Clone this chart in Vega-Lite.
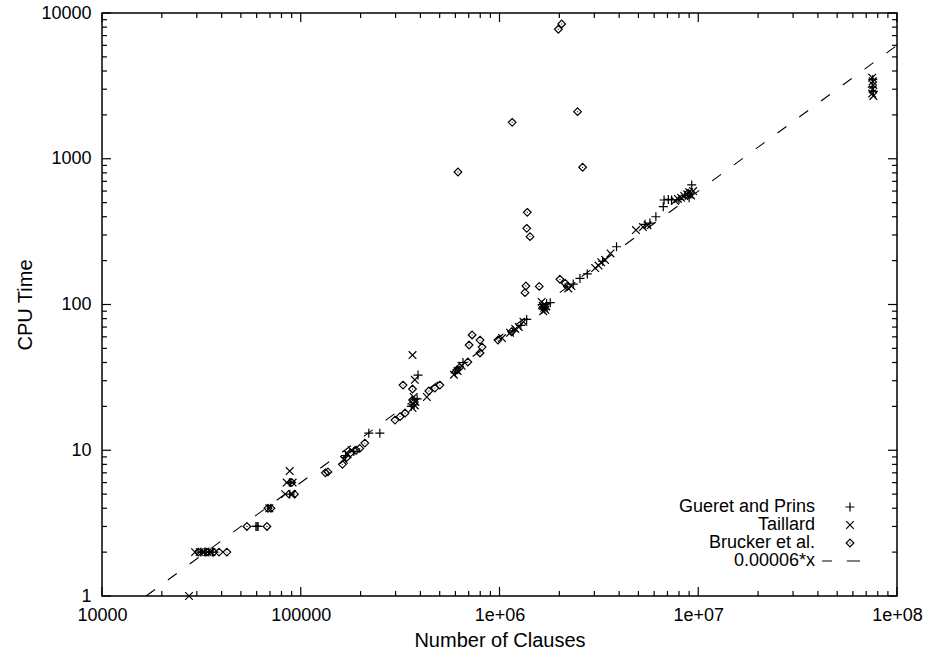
{
  "$schema": "https://vega.github.io/schema/vega-lite/v6.json",
  "width": 795,
  "height": 583,
  "autosize": "none",
  "padding": {"left": 102, "top": 13, "right": 39, "bottom": 61},
  "background": "white",
  "config": {
    "view": {"stroke": "black", "strokeWidth": 1.5},
    "axis": {
      "domain": false, "ticks": false, "grid": false,
      "labelFont": "Liberation Sans", "labelFontSize": 18, "labelColor": "black",
      "titleFont": "Liberation Sans", "titleFontSize": 20, "titleFontWeight": "normal", "titleColor": "black",
      "labelOverlap": false, "labelFlush": false
    },
    "legend": {
      "labelFont": "Liberation Sans", "labelFontSize": 18, "labelColor": "black"
    }
  },
  "datasets": {
    "fit": [
      {"clauses": 16667, "cpu": 1},
      {"clauses": 100000000, "cpu": 6000}
    ],
    "xmajor": [
      {"clauses": 10000}, {"clauses": 100000}, {"clauses": 1000000}, {"clauses": 10000000}, {"clauses": 100000000}
    ],
    "xminor": [
      {"clauses": 20000}, {"clauses": 30000}, {"clauses": 40000}, {"clauses": 50000}, {"clauses": 60000}, {"clauses": 70000}, {"clauses": 80000}, {"clauses": 90000},
      {"clauses": 200000}, {"clauses": 300000}, {"clauses": 400000}, {"clauses": 500000}, {"clauses": 600000}, {"clauses": 700000}, {"clauses": 800000}, {"clauses": 900000},
      {"clauses": 2000000}, {"clauses": 3000000}, {"clauses": 4000000}, {"clauses": 5000000}, {"clauses": 6000000}, {"clauses": 7000000}, {"clauses": 8000000}, {"clauses": 9000000},
      {"clauses": 20000000}, {"clauses": 30000000}, {"clauses": 40000000}, {"clauses": 50000000}, {"clauses": 60000000}, {"clauses": 70000000}, {"clauses": 80000000}, {"clauses": 90000000}
    ],
    "ymajor": [
      {"cpu": 1}, {"cpu": 10}, {"cpu": 100}, {"cpu": 1000}, {"cpu": 10000}
    ],
    "yminor": [
      {"cpu": 2}, {"cpu": 3}, {"cpu": 4}, {"cpu": 5}, {"cpu": 6}, {"cpu": 7}, {"cpu": 8}, {"cpu": 9},
      {"cpu": 20}, {"cpu": 30}, {"cpu": 40}, {"cpu": 50}, {"cpu": 60}, {"cpu": 70}, {"cpu": 80}, {"cpu": 90},
      {"cpu": 200}, {"cpu": 300}, {"cpu": 400}, {"cpu": 500}, {"cpu": 600}, {"cpu": 700}, {"cpu": 800}, {"cpu": 900},
      {"cpu": 2000}, {"cpu": 3000}, {"cpu": 4000}, {"cpu": 5000}, {"cpu": 6000}, {"cpu": 7000}, {"cpu": 8000}, {"cpu": 9000}
    ],
    "runs": [
      {"clauses": 27400, "cpu": 1, "method": "Taillard"},
      {"clauses": 29400, "cpu": 2, "method": "Taillard"},
      {"clauses": 31000, "cpu": 2, "method": "Taillard"},
      {"clauses": 32500, "cpu": 2, "method": "Taillard"},
      {"clauses": 34000, "cpu": 2, "method": "Taillard"},
      {"clauses": 35500, "cpu": 2, "method": "Taillard"},
      {"clauses": 31500, "cpu": 2, "method": "Gueret and Prins"},
      {"clauses": 33000, "cpu": 2, "method": "Gueret and Prins"},
      {"clauses": 34500, "cpu": 2, "method": "Gueret and Prins"},
      {"clauses": 36000, "cpu": 2, "method": "Gueret and Prins"},
      {"clauses": 30500, "cpu": 2, "method": "Brucker et al."},
      {"clauses": 33500, "cpu": 2, "method": "Brucker et al."},
      {"clauses": 36500, "cpu": 2, "method": "Brucker et al."},
      {"clauses": 38800, "cpu": 2, "method": "Brucker et al."},
      {"clauses": 42500, "cpu": 2, "method": "Brucker et al."},
      {"clauses": 53600, "cpu": 3, "method": "Brucker et al."},
      {"clauses": 67600, "cpu": 3, "method": "Brucker et al."},
      {"clauses": 59500, "cpu": 3, "method": "Gueret and Prins"},
      {"clauses": 60300, "cpu": 3, "method": "Gueret and Prins"},
      {"clauses": 61000, "cpu": 3, "method": "Gueret and Prins"},
      {"clauses": 68400, "cpu": 4, "method": "Brucker et al."},
      {"clauses": 70800, "cpu": 4, "method": "Brucker et al."},
      {"clauses": 69500, "cpu": 4, "method": "Taillard"},
      {"clauses": 83500, "cpu": 5, "method": "Taillard"},
      {"clauses": 90500, "cpu": 5, "method": "Taillard"},
      {"clauses": 88000, "cpu": 5, "method": "Gueret and Prins"},
      {"clauses": 93000, "cpu": 5, "method": "Brucker et al."},
      {"clauses": 85000, "cpu": 6, "method": "Taillard"},
      {"clauses": 91000, "cpu": 6, "method": "Taillard"},
      {"clauses": 88500, "cpu": 6, "method": "Gueret and Prins"},
      {"clauses": 90000, "cpu": 6, "method": "Brucker et al."},
      {"clauses": 88000, "cpu": 7.2, "method": "Taillard"},
      {"clauses": 133000, "cpu": 7, "method": "Brucker et al."},
      {"clauses": 137000, "cpu": 7.1, "method": "Brucker et al."},
      {"clauses": 162000, "cpu": 8.0, "method": "Brucker et al."},
      {"clauses": 165000, "cpu": 8.6, "method": "Taillard"},
      {"clauses": 168000, "cpu": 9.2, "method": "Gueret and Prins"},
      {"clauses": 170000, "cpu": 8.9, "method": "Brucker et al."},
      {"clauses": 172000, "cpu": 9.4, "method": "Taillard"},
      {"clauses": 178000, "cpu": 9.6, "method": "Brucker et al."},
      {"clauses": 180000, "cpu": 10, "method": "Taillard"},
      {"clauses": 185000, "cpu": 9.8, "method": "Gueret and Prins"},
      {"clauses": 190000, "cpu": 10, "method": "Brucker et al."},
      {"clauses": 198000, "cpu": 10.3, "method": "Brucker et al."},
      {"clauses": 210000, "cpu": 11.2, "method": "Brucker et al."},
      {"clauses": 220000, "cpu": 13.1, "method": "Gueret and Prins"},
      {"clauses": 250000, "cpu": 13.1, "method": "Gueret and Prins"},
      {"clauses": 298000, "cpu": 16.1, "method": "Brucker et al."},
      {"clauses": 316000, "cpu": 17, "method": "Brucker et al."},
      {"clauses": 335000, "cpu": 18, "method": "Brucker et al."},
      {"clauses": 360000, "cpu": 20, "method": "Gueret and Prins"},
      {"clauses": 365000, "cpu": 19.5, "method": "Taillard"},
      {"clauses": 372000, "cpu": 20.5, "method": "Gueret and Prins"},
      {"clauses": 375000, "cpu": 20.3, "method": "Taillard"},
      {"clauses": 378000, "cpu": 21.5, "method": "Taillard"},
      {"clauses": 385000, "cpu": 22.5, "method": "Gueret and Prins"},
      {"clauses": 370000, "cpu": 23.2, "method": "Taillard"},
      {"clauses": 365000, "cpu": 22.1, "method": "Brucker et al."},
      {"clauses": 327000, "cpu": 28, "method": "Brucker et al."},
      {"clauses": 365000, "cpu": 26.3, "method": "Brucker et al."},
      {"clauses": 375000, "cpu": 30.4, "method": "Taillard"},
      {"clauses": 389000, "cpu": 32.8, "method": "Gueret and Prins"},
      {"clauses": 365000, "cpu": 45, "method": "Taillard"},
      {"clauses": 431000, "cpu": 23.2, "method": "Taillard"},
      {"clauses": 441000, "cpu": 25.5, "method": "Brucker et al."},
      {"clauses": 473000, "cpu": 26.7, "method": "Brucker et al."},
      {"clauses": 501000, "cpu": 28, "method": "Brucker et al."},
      {"clauses": 590000, "cpu": 33, "method": "Taillard"},
      {"clauses": 600000, "cpu": 34, "method": "Gueret and Prins"},
      {"clauses": 610000, "cpu": 35.5, "method": "Brucker et al."},
      {"clauses": 615000, "cpu": 35, "method": "Taillard"},
      {"clauses": 630000, "cpu": 37, "method": "Brucker et al."},
      {"clauses": 645000, "cpu": 38, "method": "Taillard"},
      {"clauses": 655000, "cpu": 40, "method": "Gueret and Prins"},
      {"clauses": 693000, "cpu": 40.3, "method": "Brucker et al."},
      {"clauses": 728000, "cpu": 61.8, "method": "Brucker et al."},
      {"clauses": 798000, "cpu": 57, "method": "Brucker et al."},
      {"clauses": 703000, "cpu": 52.7, "method": "Brucker et al."},
      {"clauses": 817000, "cpu": 51, "method": "Brucker et al."},
      {"clauses": 798000, "cpu": 46.5, "method": "Brucker et al."},
      {"clauses": 982000, "cpu": 57, "method": "Brucker et al."},
      {"clauses": 1030000, "cpu": 58.8, "method": "Taillard"},
      {"clauses": 1130000, "cpu": 64, "method": "Taillard"},
      {"clauses": 1150000, "cpu": 65, "method": "Brucker et al."},
      {"clauses": 1170000, "cpu": 66, "method": "Gueret and Prins"},
      {"clauses": 1200000, "cpu": 68, "method": "Taillard"},
      {"clauses": 1250000, "cpu": 70, "method": "Taillard"},
      {"clauses": 1280000, "cpu": 72, "method": "Gueret and Prins"},
      {"clauses": 1320000, "cpu": 76, "method": "Taillard"},
      {"clauses": 1370000, "cpu": 79, "method": "Gueret and Prins"},
      {"clauses": 618000, "cpu": 811, "method": "Brucker et al."},
      {"clauses": 1158000, "cpu": 1778, "method": "Brucker et al."},
      {"clauses": 1977000, "cpu": 7730, "method": "Brucker et al."},
      {"clauses": 2055000, "cpu": 8410, "method": "Brucker et al."},
      {"clauses": 2470000, "cpu": 2103, "method": "Brucker et al."},
      {"clauses": 2620000, "cpu": 874, "method": "Brucker et al."},
      {"clauses": 1380000, "cpu": 429, "method": "Brucker et al."},
      {"clauses": 1371000, "cpu": 333, "method": "Brucker et al."},
      {"clauses": 1424000, "cpu": 292, "method": "Brucker et al."},
      {"clauses": 1358000, "cpu": 134, "method": "Brucker et al."},
      {"clauses": 1343000, "cpu": 120.6, "method": "Brucker et al."},
      {"clauses": 1585000, "cpu": 133, "method": "Brucker et al."},
      {"clauses": 1630000, "cpu": 104, "method": "Taillard"},
      {"clauses": 1650000, "cpu": 98, "method": "Taillard"},
      {"clauses": 1680000, "cpu": 95, "method": "Taillard"},
      {"clauses": 1700000, "cpu": 92, "method": "Taillard"},
      {"clauses": 1660000, "cpu": 90, "method": "Taillard"},
      {"clauses": 1720000, "cpu": 97, "method": "Taillard"},
      {"clauses": 1640000, "cpu": 100, "method": "Gueret and Prins"},
      {"clauses": 1690000, "cpu": 93, "method": "Gueret and Prins"},
      {"clauses": 1727000, "cpu": 101, "method": "Gueret and Prins"},
      {"clauses": 1800000, "cpu": 103, "method": "Gueret and Prins"},
      {"clauses": 1660000, "cpu": 96, "method": "Brucker et al."},
      {"clauses": 2014000, "cpu": 149, "method": "Brucker et al."},
      {"clauses": 2140000, "cpu": 140, "method": "Brucker et al."},
      {"clauses": 2195000, "cpu": 133, "method": "Brucker et al."},
      {"clauses": 2220000, "cpu": 129, "method": "Taillard"},
      {"clauses": 2300000, "cpu": 134, "method": "Taillard"},
      {"clauses": 2350000, "cpu": 138, "method": "Gueret and Prins"},
      {"clauses": 2540000, "cpu": 151, "method": "Gueret and Prins"},
      {"clauses": 2765000, "cpu": 162, "method": "Gueret and Prins"},
      {"clauses": 3030000, "cpu": 178, "method": "Taillard"},
      {"clauses": 3150000, "cpu": 185, "method": "Taillard"},
      {"clauses": 3250000, "cpu": 195, "method": "Taillard"},
      {"clauses": 3300000, "cpu": 198, "method": "Gueret and Prins"},
      {"clauses": 3400000, "cpu": 202, "method": "Taillard"},
      {"clauses": 3620000, "cpu": 224, "method": "Taillard"},
      {"clauses": 3880000, "cpu": 249, "method": "Gueret and Prins"},
      {"clauses": 4860000, "cpu": 324, "method": "Taillard"},
      {"clauses": 5270000, "cpu": 340, "method": "Taillard"},
      {"clauses": 5400000, "cpu": 355, "method": "Gueret and Prins"},
      {"clauses": 5550000, "cpu": 350, "method": "Taillard"},
      {"clauses": 5710000, "cpu": 362, "method": "Gueret and Prins"},
      {"clauses": 6120000, "cpu": 400, "method": "Gueret and Prins"},
      {"clauses": 6670000, "cpu": 469, "method": "Gueret and Prins"},
      {"clauses": 6730000, "cpu": 521, "method": "Gueret and Prins"},
      {"clauses": 7070000, "cpu": 526, "method": "Gueret and Prins"},
      {"clauses": 7340000, "cpu": 521, "method": "Gueret and Prins"},
      {"clauses": 7640000, "cpu": 515, "method": "Taillard"},
      {"clauses": 7900000, "cpu": 530, "method": "Taillard"},
      {"clauses": 8200000, "cpu": 540, "method": "Taillard"},
      {"clauses": 8500000, "cpu": 555, "method": "Taillard"},
      {"clauses": 8800000, "cpu": 570, "method": "Taillard"},
      {"clauses": 9000000, "cpu": 590, "method": "Taillard"},
      {"clauses": 9200000, "cpu": 560, "method": "Taillard"},
      {"clauses": 9420000, "cpu": 600, "method": "Taillard"},
      {"clauses": 8000000, "cpu": 525, "method": "Gueret and Prins"},
      {"clauses": 8600000, "cpu": 560, "method": "Gueret and Prins"},
      {"clauses": 9000000, "cpu": 540, "method": "Gueret and Prins"},
      {"clauses": 8900000, "cpu": 580, "method": "Brucker et al."},
      {"clauses": 9270000, "cpu": 661, "method": "Gueret and Prins"},
      {"clauses": 75000000, "cpu": 3600, "method": "Taillard"},
      {"clauses": 75500000, "cpu": 3400, "method": "Taillard"},
      {"clauses": 76000000, "cpu": 3200, "method": "Taillard"},
      {"clauses": 75500000, "cpu": 3000, "method": "Taillard"},
      {"clauses": 75000000, "cpu": 2800, "method": "Taillard"},
      {"clauses": 76000000, "cpu": 2700, "method": "Taillard"},
      {"clauses": 75500000, "cpu": 3500, "method": "Gueret and Prins"},
      {"clauses": 75000000, "cpu": 3100, "method": "Gueret and Prins"},
      {"clauses": 76000000, "cpu": 2900, "method": "Gueret and Prins"}
    ]
  },
  "layer": [
    {
      "data": {"name": "fit"},
      "mark": {"type": "line", "color": "black", "strokeWidth": 1.1, "strokeDash": [11, 16]},
      "encoding": {
        "x": {
          "field": "clauses", "type": "quantitative", "title": "Number of Clauses",
          "scale": {"type": "log", "domain": [10000, 100000000], "nice": false},
          "axis": {
            "orient": "bottom",
            "values": [10000, 100000, 1000000, 10000000, 100000000],
            "labelExpr": "datum.value == 10000 ? '10000' : datum.value == 100000 ? '100000' : datum.value == 1000000 ? '1e+06' : datum.value == 10000000 ? '1e+07' : '1e+08'",
            "labelPadding": 10,
            "titlePadding": 6
          }
        },
        "y": {
          "field": "cpu", "type": "quantitative", "title": "CPU Time",
          "scale": {"type": "log", "domain": [1, 10000], "nice": false},
          "axis": {
            "orient": "left",
            "values": [1, 10, 100, 1000, 10000],
            "labelExpr": "datum.value + ''",
            "labelPadding": 11,
            "titlePadding": 5
          }
        }
      }
    },
    {
      "data": {"name": "xmajor"},
      "mark": {"type": "point", "filled": false, "color": "black", "strokeWidth": 1.2, "size": 81, "opacity": 1, "shape": "M0,0L0,-2"},
      "encoding": {
        "x": {"field": "clauses", "type": "quantitative", "title": "Number of Clauses"},
        "y": {"datum": 1, "type": "quantitative"}
      }
    },
    {
      "data": {"name": "xmajor"},
      "mark": {"type": "point", "filled": false, "color": "black", "strokeWidth": 1.2, "size": 81, "opacity": 1, "shape": "M0,0L0,2"},
      "encoding": {
        "x": {"field": "clauses", "type": "quantitative", "title": "Number of Clauses"},
        "y": {"datum": 10000, "type": "quantitative"}
      }
    },
    {
      "data": {"name": "xminor"},
      "mark": {"type": "point", "filled": false, "color": "black", "strokeWidth": 1.2, "size": 81, "opacity": 1, "shape": "M0,0L0,-1.1"},
      "encoding": {
        "x": {"field": "clauses", "type": "quantitative", "title": "Number of Clauses"},
        "y": {"datum": 1, "type": "quantitative"}
      }
    },
    {
      "data": {"name": "xminor"},
      "mark": {"type": "point", "filled": false, "color": "black", "strokeWidth": 1.2, "size": 81, "opacity": 1, "shape": "M0,0L0,1.1"},
      "encoding": {
        "x": {"field": "clauses", "type": "quantitative", "title": "Number of Clauses"},
        "y": {"datum": 10000, "type": "quantitative"}
      }
    },
    {
      "data": {"name": "ymajor"},
      "mark": {"type": "point", "filled": false, "color": "black", "strokeWidth": 1.2, "size": 81, "opacity": 1, "shape": "M0,0L2,0"},
      "encoding": {
        "x": {"datum": 10000, "type": "quantitative"},
        "y": {"field": "cpu", "type": "quantitative", "title": "CPU Time"}
      }
    },
    {
      "data": {"name": "ymajor"},
      "mark": {"type": "point", "filled": false, "color": "black", "strokeWidth": 1.2, "size": 81, "opacity": 1, "shape": "M0,0L-2,0"},
      "encoding": {
        "x": {"datum": 100000000, "type": "quantitative"},
        "y": {"field": "cpu", "type": "quantitative", "title": "CPU Time"}
      }
    },
    {
      "data": {"name": "yminor"},
      "mark": {"type": "point", "filled": false, "color": "black", "strokeWidth": 1.2, "size": 81, "opacity": 1, "shape": "M0,0L1.1,0"},
      "encoding": {
        "x": {"datum": 10000, "type": "quantitative"},
        "y": {"field": "cpu", "type": "quantitative", "title": "CPU Time"}
      }
    },
    {
      "data": {"name": "yminor"},
      "mark": {"type": "point", "filled": false, "color": "black", "strokeWidth": 1.2, "size": 81, "opacity": 1, "shape": "M0,0L-1.1,0"},
      "encoding": {
        "x": {"datum": 100000000, "type": "quantitative"},
        "y": {"field": "cpu", "type": "quantitative", "title": "CPU Time"}
      }
    },
    {
      "data": {"name": "runs"},
      "mark": {"type": "point", "filled": false, "color": "black", "strokeWidth": 1.2, "size": 81, "opacity": 1, "clip": false},
      "encoding": {
        "x": {"field": "clauses", "type": "quantitative", "title": "Number of Clauses"},
        "y": {"field": "cpu", "type": "quantitative", "title": "CPU Time"},
        "shape": {
          "field": "method", "type": "nominal",
          "scale": {
            "domain": ["Gueret and Prins", "Taillard", "Brucker et al.", "0.00006*x"],
            "range": ["M-1,0L1,0M0,-1L0,1", "M-0.85,-0.85L0.85,0.85M-0.85,0.85L0.85,-0.85", "M0,-0.85L0.85,0L0,0.85L-0.85,0ZM0,-0.1L0,0.1", "M-6.2,0L-4,0M-0.7,0L2.2,0"]
          },
          "legend": {
            "title": null,
            "orient": "none",
            "legendX": 564,
            "legendY": 485,
            "labelAlign": "right",
            "labelOffset": -44,
            "symbolOffset": 175,
            "symbolSize": 81,
            "symbolStrokeWidth": 1.2,
            "symbolStrokeColor": "black",
            "symbolFillColor": "transparent",
            "rowPadding": 0,
            "labelLimit": 300,
            "padding": 0
          }
        }
      }
    }
  ]
}
